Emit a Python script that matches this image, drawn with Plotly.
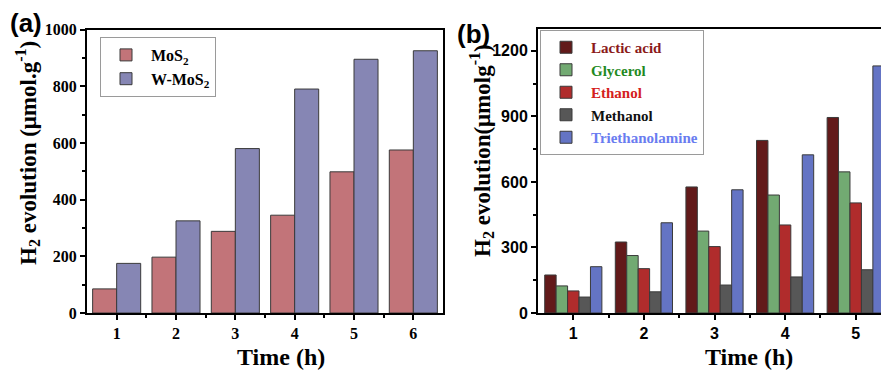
import plotly.graph_objects as go

# ---------------- data ----------------
time_a = [1, 2, 3, 4, 5, 6]
mos2 = [85, 197, 288, 345, 498, 575]
w_mos2 = [175, 325, 580, 790, 895, 925]

time_b = [1, 2, 3, 4, 5]
lactic = [174, 325, 577, 790, 895]
glycerol = [124, 263, 375, 540, 646]
ethanol = [101, 203, 304, 403, 504]
methanol = [73, 97, 128, 165, 198]
triethanolamine = [212, 413, 564, 724, 1131]

ticks_a = [0, 200, 400, 600, 800, 1000]
ticks_b = [0, 300, 600, 900, 1200]

W, H = 889, 370
OFF = 8  # page body margin offset
SERIF = "Liberation Serif"
SANS = "Liberation Sans"

def px(x):
    return (x - OFF) / W

def py(y):
    return 1 - (y - OFF) / H

fig = go.Figure()

edge = dict(color="#3a3a3a", width=1)

fig.add_trace(go.Bar(x=time_a, y=mos2, name="MoS<sub>2</sub>",
                     marker=dict(color="#c27479", line=edge),
                     xaxis="x", yaxis="y", legend="legend", offsetgroup="a1"))
fig.add_trace(go.Bar(x=time_a, y=w_mos2, name="W-MoS<sub>2</sub>",
                     marker=dict(color="#8686b4", line=edge),
                     xaxis="x", yaxis="y", legend="legend", offsetgroup="a2"))

series_b = [
    ("Lactic acid", lactic, "#621a1a", "#8b1a1a"),
    ("Glycerol", glycerol, "#72aa72", "#1f8a1f"),
    ("Ethanol", ethanol, "#b02c2c", "#d42020"),
    ("Methanol", methanol, "#575757", "#111111"),
    ("Triethanolamine", triethanolamine, "#6474c4", "#6a7cf0"),
]
for i, (nm, vals, col, tcol) in enumerate(series_b):
    fig.add_trace(go.Bar(x=time_b, y=vals,
                         name=f'<span style="color:{tcol}">{nm}</span>',
                         marker=dict(color=col, line=edge),
                         xaxis="x2", yaxis="y2", legend="legend2",
                         offsetgroup=f"b{i}"))

axis_common = dict(showline=True, linecolor="black", linewidth=2, mirror=True,
                   ticks="outside", ticklen=5, tickwidth=2, tickcolor="black",
                   showgrid=False, zeroline=False, automargin=False)

fig.update_layout(
    width=W, height=H,
    margin=dict(l=0, r=0, t=0, b=0, pad=0, autoexpand=False),
    paper_bgcolor="white", plot_bgcolor="white",
    barmode="group", bargap=0.19, bargroupgap=0,
    showlegend=True,
    xaxis=dict(domain=[px(87), px(443)], range=[0.5, 6.5], tickvals=time_a,
               tickfont=dict(family=SERIF, size=16, weight="bold", color="black"),
               minor=dict(tickvals=[1.5, 2.5, 3.5, 4.5, 5.5], ticks="outside",
                          ticklen=3, tickwidth=2, tickcolor="black"),
               anchor="y", **axis_common),
    yaxis=dict(domain=[py(313), py(29.5)], range=[0, 1000], tickvals=ticks_a,
               tickfont=dict(family=SERIF, size=16, weight="bold", color="black"),
               minor=dict(dtick=100, ticks="outside", ticklen=3, tickwidth=2,
                          tickcolor="black"),
               anchor="x", **axis_common),
    xaxis2=dict(domain=[px(538), px(891)], range=[0.5, 5.5], tickvals=time_b,
                tickfont=dict(family=SANS, size=16, weight="bold", color="black"),
                minor=dict(tickvals=[1.5, 2.5, 3.5, 4.5], ticks="outside",
                           ticklen=3, tickwidth=2, tickcolor="black"),
                anchor="y2", **axis_common),
    yaxis2=dict(domain=[py(313), py(29)], range=[0, 1300], tickvals=ticks_b,
                tickfont=dict(family=SANS, size=16, weight="bold", color="black"),
                minor=dict(dtick=150, ticks="outside", ticklen=3, tickwidth=2,
                           tickcolor="black"),
                anchor="x2", **axis_common),
    legend=dict(x=px(100), y=py(37), xanchor="left", yanchor="top",
                bgcolor="white", bordercolor="#9a9a9a", borderwidth=1,
                font=dict(family=SERIF, size=16, weight="bold", color="black"),
                itemwidth=40, tracegroupgap=0, traceorder="normal"),
    legend2=dict(x=px(540), y=py(30), xanchor="left", yanchor="top",
                 bgcolor="white", bordercolor="#9a9a9a", borderwidth=1,
                 font=dict(family=SERIF, size=15, weight="bold", color="black"),
                 itemwidth=40, tracegroupgap=0, traceorder="normal"),
)

ann_font = dict(family=SERIF, size=24, weight="bold", color="black")
title_font = dict(family=SERIF, size=23, weight="bold", color="black")
common_ann = dict(xref="paper", yref="paper", showarrow=False,
                  xanchor="center", yanchor="middle")
fig.add_annotation(text="Time (h)", x=px(281), y=py(357), font=ann_font, **common_ann)
fig.add_annotation(text="Time (h)", x=px(749), y=py(357), font=ann_font, **common_ann)
fig.add_annotation(text="H<sub>2</sub> evolution (μmol.g<sup>-1</sup>)", x=px(27), y=py(153),
                   textangle=-90, font=title_font, **common_ann)
fig.add_annotation(text="H<sub>2</sub> evolution(μmolg<sup>-1</sup>)", x=px(481), y=py(151),
                   textangle=-90, font=title_font, **common_ann)
fig.add_annotation(text="(a)", x=px(8), y=py(6), xref="paper", yref="paper",
                   xanchor="left", yanchor="top", showarrow=False,
                   font=dict(family=SANS, size=26, weight="bold", color="black"))
fig.add_annotation(text="(b)", x=px(455), y=py(17), xref="paper", yref="paper",
                   xanchor="left", yanchor="top", showarrow=False,
                   font=dict(family=SANS, size=26, weight="bold", color="black"))

fig.write_html("out.html")
